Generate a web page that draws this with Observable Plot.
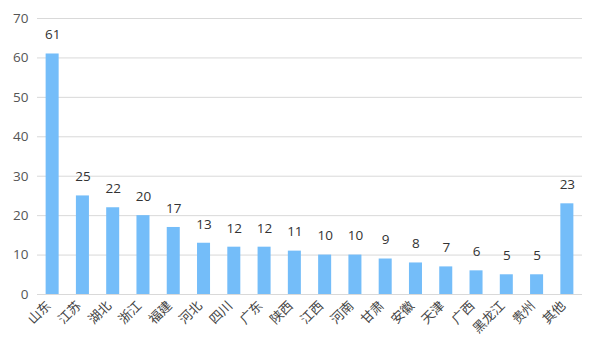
<!DOCTYPE html>
<html><head><meta charset="utf-8">
<script src="https://cdn.jsdelivr.net/npm/d3@7"></script>
<script src="https://cdn.jsdelivr.net/npm/@observablehq/plot@0.6"></script>
<style>body{margin:0;background:#fff;font-family:"Noto Sans CJK SC",sans-serif;}</style>
</head><body><div id="chart"></div>
<script>
const provinces = ["山东","江苏","湖北","浙江","福建","河北","四川","广东","陕西","江西","河南","甘肃","安徽","天津","广西","黑龙江","贵州","其他"];
const counts = [61,25,22,20,17,13,12,12,11,10,10,9,8,7,6,5,5,23];
const yTicks = [0,10,20,30,40,50,60,70];
const data = provinces.map((p,i)=>({p, v: counts[i]}));
const chart = Plot.plot({
  width: 600, height: 360,
  marginLeft: 37, marginRight: 18, marginTop: 18, marginBottom: 66,
  style: {fontFamily: '"Open Sans", "Noto Sans CJK SC", sans-serif', fontSize: "13px", color: "#555"},
  x: {domain: provinces, paddingInner: 0.57, paddingOuter: 0.285, round: false, label: null},
  y: {domain: [0,70], label: null},
  marks: [
    Plot.gridY(yTicks, {stroke: "#d9d9d9", strokeOpacity: 1}),
    Plot.axisY(yTicks, {tickSize: 0, tickPadding: 9, fontSize: 13.5, fill: "#555"}),
    Plot.axisX({tickSize: 0, tickPadding: 9, tickRotate: -45, fontSize: 13, fill: "#444", dx: -4, fontFamily: '"Noto Sans CJK SC", sans-serif'}),
    Plot.barY(data, {x: "p", y: "v", fill: "#74bdf9"}),
    Plot.text(data, {x: "p", y: "v", text: d => String(d.v), dy: -19, fontSize: 13.5, fill: "#333"})
  ]
});
document.getElementById("chart").appendChild(chart);
</script></body></html>
